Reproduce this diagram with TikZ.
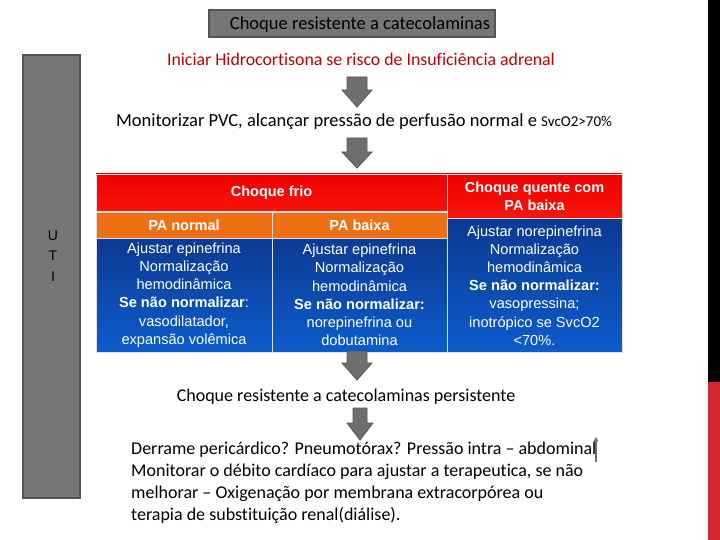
\documentclass[tikz,border=0pt]{standalone}
\usepackage{fontspec}
\setmainfont{Carlito}[Ligatures={NoCommon}]
\newfontfamily\arialf{Liberation Sans}
\usetikzlibrary{arrows.meta}
\definecolor{boxgray}{RGB}{118,118,118}
\definecolor{boxedge}{RGB}{85,85,85}
\definecolor{arrgray}{RGB}{110,110,110}
\definecolor{darkred}{RGB}{192,0,0}
\definecolor{hdrred}{RGB}{236,0,0}
\definecolor{hdrred2}{RGB}{250,20,10}
\definecolor{paorange}{RGB}{240,110,20}
\definecolor{bluetop}{RGB}{12,58,145}
\definecolor{bluebot}{RGB}{12,92,205}
\definecolor{sidered}{RGB}{212,40,50}
\begin{document}
\begin{tikzpicture}[x=1pt,y=-1pt,
  graybox/.style={draw=boxedge,line width=2pt,fill=boxgray},
  txt/.style={inner sep=0pt,font=\fontsize{18.5}{21}\selectfont},
  cell/.style={inner sep=0pt,draw=white!75!gray,line width=0.6pt,text=white,align=center,
    font=\arialf\fontsize{14.6}{18.2}\selectfont},
  hdr/.style={font=\arialf\bfseries\fontsize{14.5}{18}\selectfont},
  redcell/.style={cell,hdr,top color=hdrred,bottom color=hdrred2},
  orcell/.style={cell,hdr,fill=paorange},
  bluecell/.style={cell,top color=bluetop,bottom color=bluebot},
  barrow/.style={fill=arrgray,draw=boxedge,line width=0.8pt,line join=miter}
]
\useasboundingbox (0,0) rectangle (720,540);
\fill[white] (0,0) rectangle (720,540);

% left UTI bar
\node[graybox,minimum width=57pt,minimum height=442pt,inner sep=0pt] (uti) at (51,276.5) {};
\node[inner sep=0pt,align=center,font=\arialf\fontsize{14}{20.5}\selectfont] (utitxt) at (53,256) {U\\T\\I};

% right side bars
\fill[black] (708,0) rectangle (720,382);
\fill[sidered] (708,382) rectangle (720,540);

% top box
\node[graybox,minimum width=286pt,minimum height=27pt,inner sep=0pt] (top) at (352,24) {};
\node[txt] (toptxt) at (360,25) {Choque resistente a catecolaminas};

\node[txt,text=darkred,font=\fontsize{17.8}{20}\selectfont] (hidro) at (361,59) {Iniciar Hidrocortisona se risco de Insuficiência adrenal};

\node[txt] (pvc) at (364,122) {Monitorizar PVC, alcançar pressão de perfusão normal e {\fontsize{15}{17}\selectfont SvcO2>70\%}};

% table
\node[redcell,minimum width=351pt,minimum height=37pt] (frio) at (271.5,192.5) {Choque frio};
\node[redcell,minimum width=175pt,minimum height=44pt] (quente) at (534.5,196) {Choque quente com\\PA baixa};
\node[orcell,minimum width=176pt,minimum height=26pt] (panorm) at (184,225) {PA normal};
\node[orcell,minimum width=175pt,minimum height=26pt] (pabaixa) at (359.5,225) {PA baixa};
\node[bluecell,minimum width=176pt,minimum height=114pt] (c1) at (184,295) {Ajustar epinefrina\\Normalização\\hemodinâmica\\\textbf{Se não normalizar}:\\vasodilatador,\\expansão volêmica};
\node[bluecell,minimum width=175pt,minimum height=114pt] (c2) at (359.5,295) {Ajustar epinefrina\\Normalização\\hemodinâmica\\\textbf{Se não normalizar:}\\norepinefrina ou\\dobutamina};
\node[bluecell,minimum width=175pt,minimum height=134pt] (c3) at (534.5,285.5) {Ajustar norepinefrina\\Normalização\\hemodinâmica\\\textbf{Se não normalizar:}\\vasopressina;\\inotrópico se SvcO2\\<70\%.};

\node[txt,font=\fontsize{18}{21}\selectfont] (pers) at (346,397) {Choque resistente a catecolaminas persistente};

\node[inner sep=0pt,anchor=north west,align=left,font=\fontsize{18}{22}\selectfont] (bottom) at (131,442) {Derrame pericárdico? Pneumotórax? Pressão intra – abdominal\\Monitorar o débito cardíaco para ajustar a terapeutica, se não\\melhorar – Oxigenação por membrana extracorpórea ou\\terapia de substituição renal(diálise).};

% block arrows
\draw[barrow] (347,77) -- (367,77) -- (367,90) -- (372,90) -- (357,107) -- (342,90) -- (347,90) -- cycle;
\draw[barrow] (347,138) -- (367,138) -- (367,152) -- (372,152) -- (357,168) -- (342,152) -- (347,152) -- cycle;
\draw[barrow] (347,351) -- (367,351) -- (367,363) -- (372,363) -- (357,380) -- (342,363) -- (347,363) -- cycle;
\draw[barrow] (353,408) -- (367,408) -- (367,423) -- (373,423) -- (360,440) -- (347,423) -- (353,423) -- cycle;

% small up arrow
\coordinate (ua) at (596,462);
\coordinate (ub) at (596,437);
\draw[arrgray,line width=1.5pt,-{Stealth[length=5pt,width=5pt]}] (ua) -- (ub);
\end{tikzpicture}
\end{document}
